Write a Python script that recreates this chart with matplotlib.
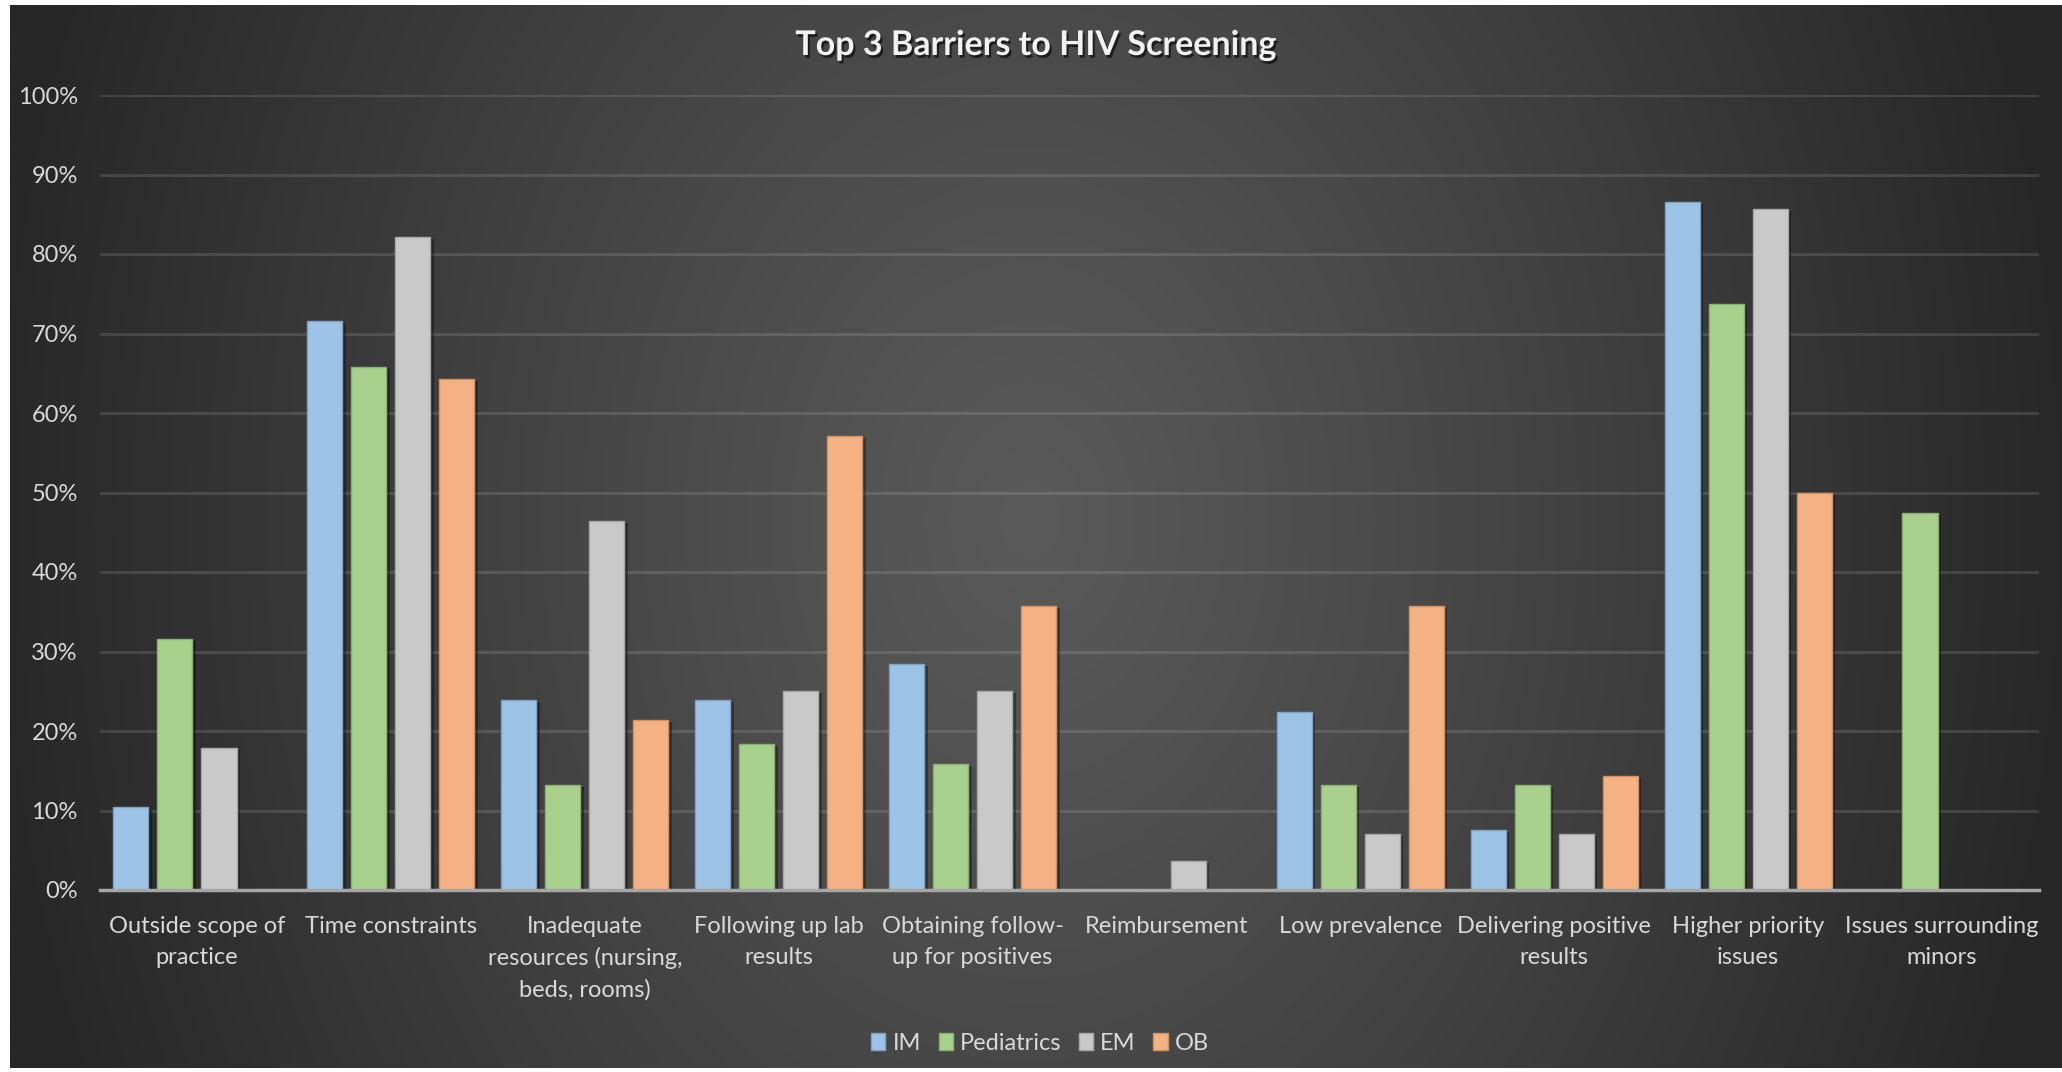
import numpy as np
import matplotlib
matplotlib.use("Agg")
import matplotlib.pyplot as plt
import matplotlib.patheffects as pe

categories = [
    "Outside scope of\npractice",
    "Time constraints",
    "Inadequate\nresources (nursing,\nbeds, rooms)",
    "Following up lab\nresults",
    "Obtaining follow-\nup for positives",
    "Reimbursement",
    "Low prevalence",
    "Delivering positive\nresults",
    "Higher priority\nissues",
    "Issues surrounding\nminors",
]
series_names = ["IM", "Pediatrics", "EM", "OB"]
im_vals = [0.104, 0.716, 0.239, 0.239, 0.284, 0.0, 0.224, 0.075, 0.866, 0.0]
peds_vals = [0.316, 0.658, 0.132, 0.184, 0.158, 0.0, 0.132, 0.132, 0.737, 0.474]
em_vals = [0.179, 0.821, 0.464, 0.250, 0.250, 0.036, 0.071, 0.071, 0.857, 0.0]
ob_vals = [0.0, 0.643, 0.214, 0.571, 0.357, 0.0, 0.357, 0.143, 0.500, 0.0]
ytick_vals = [0, 0.1, 0.2, 0.3, 0.4, 0.5, 0.6, 0.7, 0.8, 0.9, 1.0]
ytick_labels = ["0%", "10%", "20%", "30%", "40%", "50%", "60%", "70%", "80%", "90%", "100%"]
title = "Top 3 Barriers to HIV Screening"

colors = ["#9DC3E6", "#A9D18E", "#C9C9C9", "#F4B183"]
edges = ["#7FA3C6", "#8BB070", "#A8A8A8", "#D49263"]

plt.rcParams['font.family'] = ['Lato', 'DejaVu Sans']

W, H = 2062, 1072
fig = plt.figure(figsize=(W / 100, H / 100), dpi=100, facecolor="white")

# dark gradient background panel
bg = fig.add_axes([10 / W, 4 / H, (W - 10) / W, (H - 9) / H])
bg.set_axis_off()
ny, nx = 300, 600
yy, xx = np.mgrid[0:ny, 0:nx]
px = xx / (nx - 1) * (W - 10) + 10
py = yy / (ny - 1) * (H - 9) + 5
cx, cy = 1030, 520
r = np.sqrt(((px - cx) / 1050.0) ** 2 + ((py - cy) / 1400.0) ** 2)
r = np.clip(r, 0, 1)
val = (0x5a - (0x5a - 0x27) * r ** 1.1) / 255.0
img = np.dstack([val, val, val])
bg.imshow(img, extent=[0, 1, 0, 1], aspect="auto", interpolation="bilinear", origin="upper")
bg.set_xlim(0, 1)
bg.set_ylim(0, 1)

ax = fig.add_axes([100 / W, 1 - 890 / H, (2039 - 100) / W, (890 - 95) / H])
ax.patch.set_alpha(0)

x = np.arange(len(categories))
step = 0.227
width = 0.181
all_vals = [im_vals, peds_vals, em_vals, ob_vals]
shadow = [pe.SimplePatchShadow(offset=(2.5, -1.5), shadow_rgbFace="black", alpha=0.35), pe.Normal()]
for i, (vals, name) in enumerate(zip(all_vals, series_names)):
    vals = np.array(vals, dtype=float)
    lw = np.where(vals > 0, 1.0, 0.0)
    bars = ax.bar(x + (i - 1.5) * step, vals, width, color=colors[i], edgecolor=edges[i],
                  linewidth=lw, label=name, zorder=3)
    for b, v in zip(bars, vals):
        if v > 0:
            b.set_path_effects(shadow)

ax.set_xlim(-0.5, len(categories) - 0.5)
ax.set_ylim(0, 1.0)
ax.set_yticks(ytick_vals)
ax.set_yticklabels(ytick_labels)
ax.set_xticks(x)
ax.set_xticklabels(categories, linespacing=1.55)
ax.tick_params(axis="y", length=0, pad=16, labelsize=17, labelcolor="#D9D9D9")
ax.tick_params(axis="x", length=0, pad=19, labelsize=17, labelcolor="#D9D9D9")
ax.yaxis.grid(True, color="#FFFFFF", alpha=0.12, linewidth=2.2, zorder=1)
ax.set_axisbelow(True)
for s in ["top", "right", "left"]:
    ax.spines[s].set_visible(False)
ax.spines["bottom"].set_color("#A6A6A6")
ax.spines["bottom"].set_linewidth(2.5)
ax.spines["bottom"].set_zorder(5)

fig.text(1036 / W, 1 - 45 / H, title, ha="center", va="center", fontsize=24.5,
         fontweight="bold", color="#F2F2F2",
         path_effects=[pe.withSimplePatchShadow(offset=(1.5, -2), shadow_rgbFace="black", alpha=0.6)])

handles, labels = ax.get_legend_handles_labels()
leg = fig.legend(handles, labels, loc="center", bbox_to_anchor=(1040 / W, 1 - 1043 / H), ncol=4,
                 frameon=False, fontsize=17, handlelength=0.6, handleheight=0.75,
                 handletextpad=0.3, columnspacing=0.75, labelcolor="#D9D9D9")
for h in leg.legend_handles:
    h.set_path_effects([])
    h.set_linewidth(1.0)

fig.savefig("out.png", dpi=100, facecolor="white")
